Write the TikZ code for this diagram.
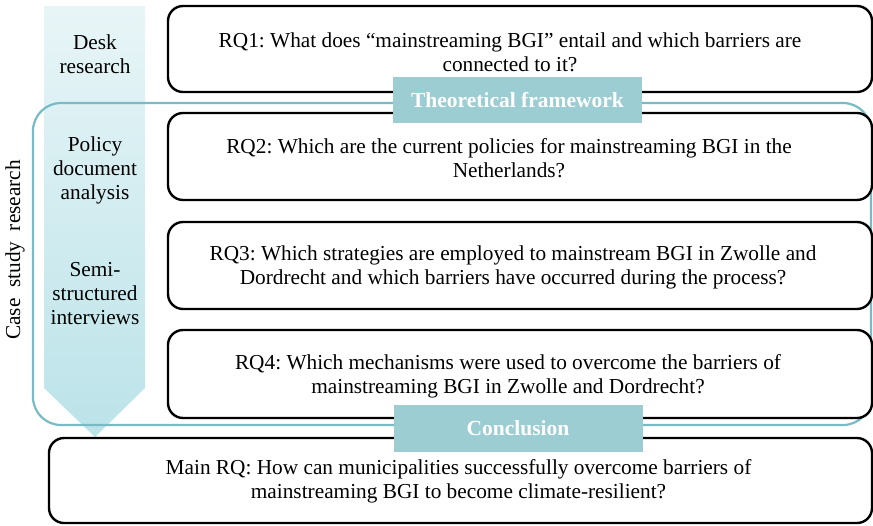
\documentclass[tikz,border=0pt]{standalone}
\usepackage{fontspec}
\setmainfont{Liberation Serif}
\frenchspacing
\definecolor{tealline}{HTML}{78BBC4}
\definecolor{labfill}{HTML}{9CCDD2}
\definecolor{arrtop}{HTML}{E8F5F7}
\definecolor{arrbot}{HTML}{BBE3E9}
\begin{document}
\begin{tikzpicture}[x=1pt,y=-1pt,
  rqbox/.style={draw=black, line width=2.4pt, rounded corners=15pt, fill=white, inner sep=0pt},
  labbox/.style={fill=labfill, text=white, font=\fontsize{21.5}{24}\selectfont\bfseries, minimum width=249pt, inner sep=0pt},
  txt/.style={align=center, font=\fontsize{21.3}{24}\selectfont, inner sep=0pt},
  sidetxt/.style={align=center, font=\fontsize{21.3}{24}\selectfont, inner sep=0pt}
]
\useasboundingbox (0,0) rectangle (873,525);
% gradient arrow
\shade[top color=arrtop, bottom color=arrbot] (44,6) -- (145,6) -- (145,388) -- (95,437) -- (44,388) -- cycle;
% case study frame
\draw[tealline, line width=2.2pt, rounded corners=28pt] (33,103) rectangle (871,425);
% RQ boxes
\node[rqbox, minimum width=704pt, minimum height=86pt] (b1) at (520,49) {};
\node[rqbox, minimum width=704pt, minimum height=87pt] (b2) at (520,156.5) {};
\node[rqbox, minimum width=704pt, minimum height=87pt] (b3) at (520,265.5) {};
\node[rqbox, minimum width=704pt, minimum height=88pt] (b4) at (520,374) {};
\node[rqbox, minimum width=823pt, minimum height=85pt] (b5) at (460.5,480.5) {};
\node[txt] (t1) at ([xshift=-10pt,yshift=-3pt]b1.center) {RQ1: What does “mainstreaming BGI” entail and which barriers are\\connected to it?};
\node[txt] (t2) at ([xshift=-11pt,yshift=-2pt]b2.center) {RQ2: Which are the current policies for mainstreaming BGI in the\\Netherlands?};
\node[txt] (t3) at ([xshift=-7pt,yshift=-2pt]b3.center) {RQ3: Which strategies are employed to mainstream BGI in Zwolle and\\Dordrecht and which barriers have occurred during the process?};
\node[txt] (t4) at ([xshift=-12pt,yshift=-2pt]b4.center) {RQ4: Which mechanisms were used to overcome the barriers of\\mainstreaming BGI in Zwolle and Dordrecht?};
\node[txt] (t5) at ([xshift=-2pt,yshift=-1pt]b5.center) {Main RQ: How can municipalities successfully overcome barriers of\\mainstreaming BGI to become climate-resilient?};
% labels
\node[labbox, minimum height=46pt] (lt) at (517.5,100) {Theoretical framework};
\node[labbox, minimum height=47pt] (lc) at (518,428) {Conclusion};
% side texts
\node[sidetxt] (s1) at (95,54) {Desk\\research};
\node[sidetxt] (s2) at (95,170) {Policy\\document\\analysis};
\node[sidetxt] (s3) at (95,294) {Semi-\\structured\\interviews};
\node[sidetxt, rotate=90] (s4) at (15,250) {Case\hspace{0.5em}study\hspace{0.5em}research};
\end{tikzpicture}
\end{document}
